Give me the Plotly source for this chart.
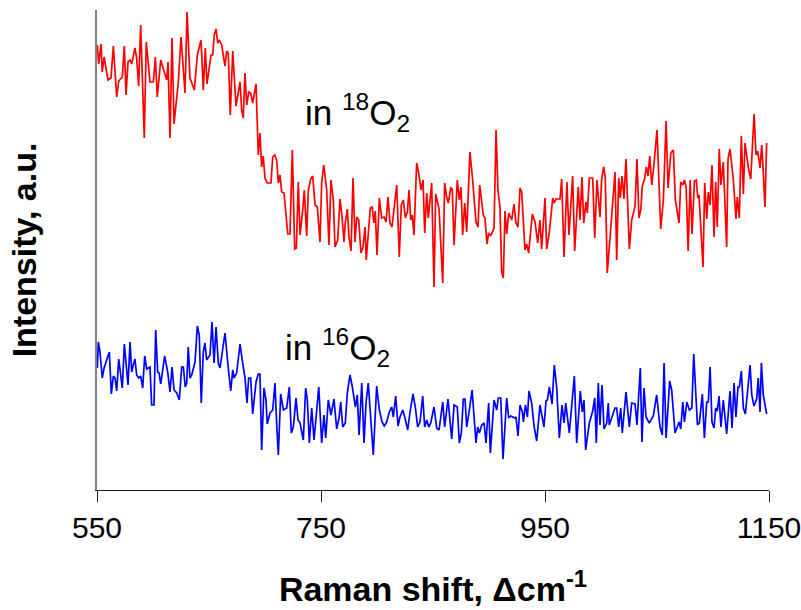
import plotly.graph_objects as go

# Raman shift (cm^-1) and intensity (a.u.)
red_x = [550.3,551.5,553.6,554.7,556.3,557.8,559.8,562.5,564.6,567.6,569.4,572.6,574.4,575.9,577.7,579.5,581.0,583.9,585.4,587.2,589.0,592.2,594.0,597.3,600.3,602.1,603.8,606.9,610.7,612.2,613.4,615.2,617.0,618.8,622.6,625.0,628.6,630.4,633.0,636.9,639.6,642.9,644.9,646.7,648.2,651.8,653.3,654.7,656.3,657.8,659.2,661.3,664.3,665.8,667.2,669.0,671.2,674.1,677.7,679.2,680.6,682.1,683.7,685.4,687.2,689.0,692.0,694.0,695.5,697.0,698.4,700.0,702.0,705.3,706.9,708.7,710.4,711.9,713.4,714.9,717.0,720.3,722.3,724.4,726.5,728.0,729.7,731.3,733.7,735.1,737.2,738.7,740.8,742.6,744.7,746.7,749.1,750.6,752.4,755.1,757.1,758.9,761.0,762.5,764.9,767.0,768.8,770.5,771.7,773.5,775.0,776.8,778.6,780.4,781.9,783.7,785.7,787.5,789.3,790.4,792.0,794.0,795.8,797.1,798.5,800.0,802.1,804.2,806.3,808.1,809.8,811.6,813.4,815.4,817.6,819.9,821.7,823.5,825.3,827.1,828.6,830.1,831.5,833.0,835.4,837.2,839.3,841.1,842.6,844.4,845.8,848.8,850.9,852.4,855.4,858.7,860.4,862.2,863.7,865.8,867.2,868.8,871.7,873.5,875.0,876.5,878.3,880.1,883.0,885.4,888.4,890.2,891.7,894.9,896.4,898.2,899.7,901.5,904.5,906.3,908.0,909.8,911.3,912.8,914.3,915.8,917.6,920.3,922.3,924.1,925.9,927.7,929.2,932.1,933.6,935.4,938.7,941.1,943.5,945.5,947.0,950.0,951.5,953.9,956.9,958.0,959.8,963.4,964.9,967.0,969.6,971.4,974.7,976.5,979.7,981.3,983.0,984.6,986.6,987.8,989.6,992.6,994.4,996.4,999.1,1000.6,1002.4,1003.8,1005.6,1008.6,1012.5,1014.0,1015.8,1017.2,1018.8,1020.5,1022.3,1025.3,1027.4,1030.4,1032.1,1033.9,1035.5,1036.9,1038.7,1040.5,1042.0,1043.5,1045.3,1047.4,1050.0,1053.3,1055.7,1058.1,1059.9,1062.3,1064.6,1066.4,1069.7,1071.2,1073.0,1074.5,1076.0,1077.8,1079.6,1081.3,1083.4,1085.1,1086.4,1087.5,1091.1,1092.6,1094.4,1095.8,1097.4,1099.1,1100.9,1102.4,1103.8,1105.6,1107.1,1109.2,1112.2,1113.4,1115.2,1118.2,1120.5,1121.7,1123.5,1125.3,1127.1,1128.6,1131.6,1133.7,1136.7,1138.4,1139.9,1142.0,1143.5,1144.9,1146.4,1147.9]
red_y = [445,426,446,418,433,423,410,412,444,393,409,413,444,395,428,430,426,442,432,404,465,352,448,408,408,433,393,430,417,410,428,352,452,366,408,453,397,478,412,400,435,450,400,442,406,435,435,455,461,447,450,445,424,439,437,375,439,384,408,379,372,417,385,398,397,387,406,335,357,323,334,312,307,307,333,335,330,307,315,298,297,256,256,340,241,242,308,255,280,300,254,300,311,314,285,283,248,307,325,300,245,310,290,243,250,291,273,248,267,281,253,239,312,248,273,270,237,243,263,230,253,282,283,267,279,235,292,272,273,268,293,267,263,283,305,233,285,290,272,278,300,270,275,255,327,317,300,310,257,297,272,307,203,296,281,207,307,293,287,302,301,245,310,290,303,255,287,258,338,310,268,263,305,275,272,246,257,254,262,360,300,283,218,212,279,256,277,270,286,267,263,302,298,240,246,237,276,268,247,270,241,292,241,258,292,287,291,291,311,233,308,255,314,239,303,270,313,267,288,277,312,312,252,310,273,311,323,313,217,260,318,230,312,292,314,291,331,241,270,284,331,272,280,304,310,323,314,334,305,327,360,261,290,369,302,337,340,290,267,308,305,310,303,239,310,256,309,310,292,295,223,307,271,298,285,325,253,308,263,341,305,328,243,331,341,310,271,293,272,354,296,347,322,311,376,335,339,322,345,317,283,347]

blue_x = [550.3,551.2,552.7,554.7,556.3,558.7,561.0,562.8,564.6,566.1,567.6,569.4,570.5,572.6,574.4,575.9,577.7,579.5,581.0,582.4,583.9,585.4,587.2,589.0,590.8,592.6,594.4,597.3,598.8,600.9,602.4,604.2,605.4,606.9,610.4,613.1,615.2,617.0,618.8,621.2,623.5,625.6,627.1,628.8,630.1,631.5,633.0,634.6,637.5,639.6,641.3,643.1,644.9,646.4,647.9,649.7,650.9,652.7,654.5,656.3,658.3,659.8,664.3,667.2,669.4,671.2,672.3,674.7,677.7,680.6,682.1,683.9,685.4,687.2,689.0,692.0,694.0,695.5,697.0,699.1,700.9,702.0,704.5,706.9,708.9,710.4,711.9,714.0,716.4,719.4,721.7,723.5,725.3,727.7,729.5,731.3,734.2,736.3,737.8,739.6,741.7,743.8,748.0,750.6,752.7,754.2,756.5,758.9,761.6,764.0,766.1,767.6,769.4,771.7,773.5,775.9,778.0,780.7,782.4,784.0,786.4,788.4,790.2,792.2,794.6,796.7,799.7,802.1,804.5,806.5,808.7,811.0,813.1,814.6,816.7,818.8,820.5,823.0,825.0,827.4,829.5,832.1,834.2,836.3,838.4,840.8,842.6,844.4,846.2,848.0,850.9,853.3,855.4,858.7,860.4,863.4,866.7,868.8,871.7,873.5,875.3,877.1,878.6,880.1,882.5,884.9,888.4,889.9,891.4,893.5,895.6,897.3,899.7,901.2,904.5,906.9,908.3,910.5,912.5,915.8,917.6,919.4,921.2,923.0,924.1,925.9,927.7,929.8,930.7,932.5,934.3,935.7,938.1,940.2,942.6,945.5,949.1,950.9,952.1,953.9,956.3,958.3,960.4,962.8,965.2,967.0,968.5,971.7,976.2,978.3,981.5,983.3,984.8,986.3,989.6,992.6,994.4,995.8,997.6,999.1,1000.9,1002.7,1005.1,1006.5,1007.4,1012.5,1014.0,1015.8,1017.6,1019.0,1022.3,1025.3,1027.4,1030.4,1032.1,1035.1,1036.6,1038.4,1040.2,1043.1,1046.7,1049.7,1052.7,1054.7,1056.3,1058.1,1061.3,1063.1,1066.1,1068.2,1069.7,1071.2,1073.0,1074.5,1076.6,1078.9,1081.1,1082.8,1086.1,1087.8,1090.5,1092.3,1094.4,1095.8,1097.4,1099.1,1100.9,1102.4,1103.8,1105.4,1107.1,1109.2,1112.2,1115.2,1117.0,1118.8,1120.5,1122.3,1123.5,1125.3,1127.1,1128.9,1133.1,1134.6,1136.6,1139.0,1140.4,1142.0,1143.2,1144.9,1146.4,1147.9]
blue_y = [122,148,138,112,122,130,138,96,114,112,99,131,122,102,146,125,105,148,118,125,131,115,112,114,102,134,121,123,85,85,160,118,117,106,134,118,98,123,100,97,90,123,123,103,107,143,112,115,128,164,155,87,138,147,130,133,135,168,127,163,127,122,157,122,99,120,112,117,146,123,113,87,112,112,76,108,116,116,40,102,90,66,77,80,107,67,35,96,80,82,103,57,63,92,70,67,50,102,90,47,82,50,103,47,75,52,90,75,91,61,72,88,63,67,97,115,103,83,95,55,107,47,87,107,67,35,104,80,68,64,68,78,83,73,94,64,73,80,72,60,78,96,83,63,68,94,63,70,63,67,83,62,60,88,63,91,51,85,83,47,57,91,91,63,80,100,47,63,57,65,67,47,87,37,90,80,92,92,31,92,72,74,73,72,73,54,85,78,68,85,73,99,87,64,49,85,63,89,90,103,86,125,103,52,85,67,87,57,114,47,99,78,90,40,67,79,92,47,107,65,105,61,67,87,65,82,82,63,82,57,98,63,87,86,65,122,48,102,73,67,74,95,63,55,127,52,109,100,57,64,68,61,88,68,88,80,82,136,65,67,96,52,88,88,123,68,62,82,79,94,63,90,56,99,62,107,73,103,103,119,82,76,125,95,84,91,112,78,127,95,83,76]

x_ticks = [550, 750, 950, 1150]
label_18 = "in <sup>18</sup>O<sub>2</sub>"
label_16 = "in <sup>16</sup>O<sub>2</sub>"

FONT = "Arial, 'Liberation Sans', sans-serif"

fig = go.Figure()
fig.add_trace(go.Scatter(x=red_x, y=red_y, mode="lines",
                         line=dict(color="#FF0000", width=1.7), name="18O2"))
fig.add_trace(go.Scatter(x=blue_x, y=blue_y, mode="lines",
                         line=dict(color="#0000FF", width=1.7), name="16O2"))

fig.add_annotation(x=734, y=378, text=label_18, showarrow=False,
                   xanchor="left", yanchor="middle",
                   font=dict(family=FONT, size=35, color="black"))
fig.add_annotation(x=716, y=143, text=label_16, showarrow=False,
                   xanchor="left", yanchor="middle",
                   font=dict(family=FONT, size=35, color="black"))

fig.update_layout(
    width=801, height=610,
    margin=dict(l=97, r=32, t=10, b=120),
    paper_bgcolor="white", plot_bgcolor="white",
    showlegend=False,
    font=dict(family=FONT, color="black"),
    xaxis=dict(
        range=[550, 1150], tickvals=x_ticks, ticktext=[str(v) for v in x_ticks],
        showgrid=False, zeroline=False, automargin=False,
        ticklabeloverflow="allow",
        showline=True, linecolor="#222222", linewidth=1,
        ticks="outside", ticklen=11, tickcolor="#222222", tickwidth=1,
        tickfont=dict(family=FONT, size=30, color="black"),
        title=dict(text="<b>Raman shift, \u0394cm<sup>-1</sup></b>",
                   font=dict(family=FONT, size=34, color="black"), standoff=34),
    ),
    yaxis=dict(
        range=[0, 480], showgrid=False, zeroline=False, automargin=False,
        showline=True, linecolor="#808080", linewidth=1.5,
        ticks="", showticklabels=False,
        title=dict(text="<b>Intensity, a.u.</b>",
                   font=dict(family=FONT, size=34, color="black"), standoff=48),
    ),
)

fig.write_html("out.html")
